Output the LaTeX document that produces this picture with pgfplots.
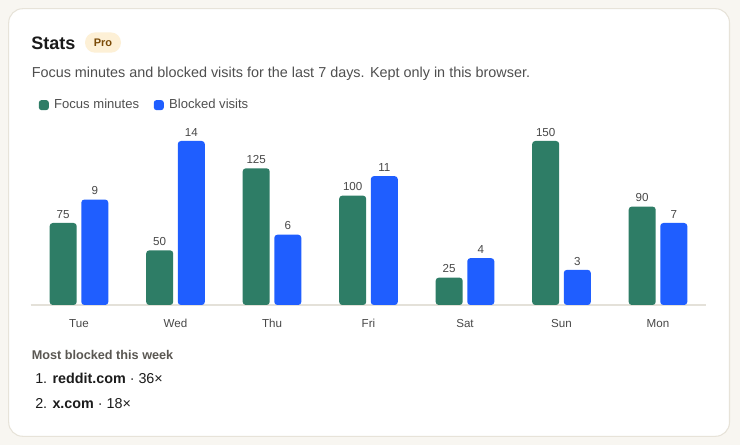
\documentclass[border=0pt]{standalone}
\usepackage{pgfplots}
\pgfplotsset{compat=1.18}
\usepackage{fontspec}
\setmainfont{Liberation Sans}
\definecolor{bg}{HTML}{F8F6F1}
\definecolor{cardborder}{HTML}{E7E3D9}
\definecolor{titlec}{HTML}{1A1A1A}
\definecolor{subc}{HTML}{4F4F4F}
\definecolor{badge}{HTML}{FDF0D6}
\definecolor{badgetext}{HTML}{7A4A06}
\definecolor{focusc}{HTML}{2E7D66}
\definecolor{blockc}{HTML}{1F5EFF}
\definecolor{axisc}{HTML}{E4E1D9}
\definecolor{labc}{HTML}{484848}
\definecolor{headc}{HTML}{5A5752}
\definecolor{listc}{HTML}{1C1C1C}

% rectangles drawn as line paths, so that rounded corners apply to bars
\makeatletter
\def\pgfpathrectangle#1#2{%
  \pgf@process{#1}\edef\rr@xa{\the\pgf@x}\edef\rr@ya{\the\pgf@y}%
  \pgf@process{#2}%
  \pgf@xc=\rr@xa\relax\advance\pgf@xc by\pgf@x\edef\rr@xb{\the\pgf@xc}%
  \pgf@yc=\rr@ya\relax\advance\pgf@yc by\pgf@y\edef\rr@yb{\the\pgf@yc}%
  \pgf@xc=\rr@xa\relax\advance\pgf@xc by\rr@xb\relax\divide\pgf@xc by 2\relax\edef\rr@xm{\the\pgf@xc}%
  \pgfpathmoveto{\pgfqpoint{\rr@xm}{\rr@ya}}%
  \pgfpathlineto{\pgfqpoint{\rr@xb}{\rr@ya}}%
  \pgfpathlineto{\pgfqpoint{\rr@xb}{\rr@yb}}%
  \pgfpathlineto{\pgfqpoint{\rr@xa}{\rr@yb}}%
  \pgfpathlineto{\pgfqpoint{\rr@xa}{\rr@ya}}%
  \pgfpathclose
}
\makeatother

\pgfplotstableread{
x focus blocked
0 75 9
1 50 14
2 125 6
3 100 11
4 25 4
5 150 3
6 90 7
}\stats

\pgfplotsset{
  common/.style={
    at={(23.0625pt,-228.75pt)}, anchor=south west,
    width=506.625pt, height=123pt, scale only axis,
    xmin=-0.5, xmax=6.5, ymin=0,
    clip=false,
    ybar, bar width=20.25pt,
    /pgf/number format/assume math mode=true,
    nodes near coords,
    nodes near coords style={font=\fontsize{8.7}{10}\selectfont, text=labc, anchor=base, inner sep=0pt, yshift=3.6pt},
  },
}

\begin{document}
\begin{tikzpicture}
\begin{scope}[x=0.75pt,y=-0.75pt]
\fill[bg] (0,0) rectangle (740,445);
\filldraw[fill=white, draw=cardborder, line width=0.8pt, rounded corners=10.5pt] (8.7,8.7) rectangle (729.5,436.3);
\node[anchor=base west, inner sep=0pt, font=\fontsize{13.5}{16}\selectfont\bfseries, text=titlec] at (31,49.3) {Stats};
\fill[badge, rounded corners=7.6pt] (85,32.4) rectangle (121,52.7);
\node[anchor=base, inner sep=0pt, font=\fontsize{8.25}{10}\selectfont\bfseries, text=badgetext] at (103,47) {Pro};
\node[anchor=base west, inner sep=0pt, font=\fontsize{10.8}{13}\selectfont, text=subc] at (31.5,78) {Focus minutes and blocked visits for the last 7 days. Kept only in this browser.};
\node[anchor=base west, inner sep=0pt, font=\fontsize{9.5}{11}\selectfont\bfseries, text=headc] at (31.5,360) {Most blocked this week};
\node[anchor=base west, inner sep=0pt, font=\fontsize{10.75}{13}\selectfont, text=listc] at (35,383.5) {1. \textbf{reddit.com} · 36×};
\node[anchor=base west, inner sep=0pt, font=\fontsize{10.75}{13}\selectfont, text=listc] at (35,408.3) {2. \textbf{x.com} · 18×};
\end{scope}

\begin{axis}[common, ymax=150,
  axis x line=bottom, axis y line=none,
  axis line style={-, draw=axisc, line width=0.8pt},
  xtick=data, xticklabels={Tue,Wed,Thu,Fri,Sat,Sun,Mon},
  xtick style={draw=none}, ytick=\empty,
  xticklabel style={font=\fontsize{8.7}{10}\selectfont, text=labc, anchor=base, yshift=-15pt, inner sep=0pt},
]
\addplot[fill=focusc, draw=none, rounded corners=2.3pt, bar shift=-11.85pt] table[x=x, y=focus] {\stats};
\end{axis}

\begin{axis}[common, ymax=14, hide axis,
  legend style={draw=none, fill=none, at={(0.012,1.27)}, anchor=north west, inner sep=0pt, outer sep=0pt,
    font=\fontsize{9.8}{11}\selectfont, text=subc,
    /tikz/every odd column/.append style={column sep=2pt},
    /tikz/every even column/.append style={column sep=9pt}},
  legend columns=2,
  legend image code/.code={\fill[#1, rounded corners=2pt] (0pt,-3.75pt) rectangle (7.5pt,3.75pt);},
]
\addlegendimage{fill=focusc, draw=none}
\addlegendentry{Focus minutes}
\addplot[fill=blockc, draw=none, rounded corners=2.3pt, bar shift=11.85pt] table[x=x, y=blocked] {\stats};
\addlegendentry{Blocked visits}
\end{axis}
\end{tikzpicture}
\end{document}
